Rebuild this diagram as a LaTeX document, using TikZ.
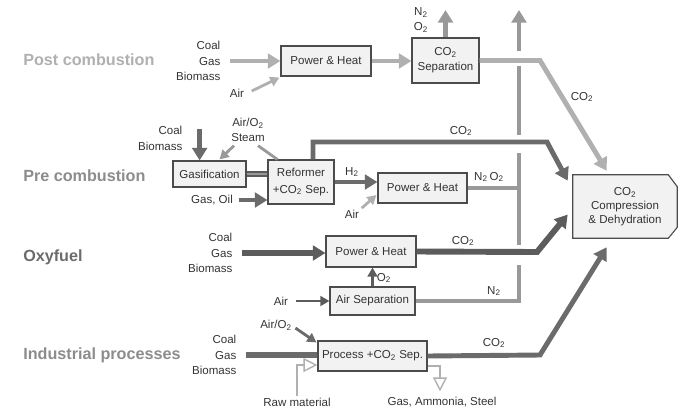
\documentclass[tikz,border=0pt]{standalone}
\usepackage{fontspec}
\setmainfont{Liberation Sans}
\usetikzlibrary{arrows.meta,calc}

\pgfdeclarelayer{bg}
\pgfsetlayers{bg,main}

\definecolor{lite}{gray}{0.69}
\definecolor{mid}{gray}{0.6}
\definecolor{dark}{gray}{0.42}
\definecolor{darker}{gray}{0.36}
\definecolor{boxfill}{gray}{0.95}
\definecolor{boxline}{gray}{0.3}
\definecolor{ink}{gray}{0.2}

\tikzset{
	unit/.style={draw=boxline, fill=boxfill, line width=0.8pt, text=ink, align=center, inner sep=1pt,
		font=\fontsize{8.2}{10.5}\selectfont},
	lbl/.style={text=ink, align=center, inner sep=1pt, font=\fontsize{8.2}{11}\selectfont},
	title/.style={anchor=west, inner sep=0pt, font=\fontsize{11.5}{13}\selectfont\bfseries},
	pipe/.style={line width=3.5pt},
	flow/.style={pipe, -{Triangle[length=9pt,width=10.5pt]}},
	feed/.style={line width=2pt, -{Triangle[length=6.5pt,width=7pt]}},
	raw/.style={draw=lite, line width=1pt, -{Triangle[open,length=10pt,width=10pt,fill=white]}},
}

\begin{document}
\begin{tikzpicture}[x=0.025cm, y=-0.025cm]

	\useasboundingbox (0,0) rectangle (678,417);

% Titulos
	\node[title, text=lite] (t1) at (23,60) {Post combustion};
	\node[title, text=gray!90] (t2) at (23,176) {Pre combustion};
	\node[title, text=dark] (t3) at (23,257) {Oxyfuel};
	\node[title, text=gray!90] (t4) at (23,355) {Industrial processes};

% Compresion
	\node[lbl, minimum width=2.6cm, minimum height=1.575cm, font=\fontsize{8.2}{10}\selectfont] (comp) at (625,206.5)
		{CO\textsubscript{2}\\Compression\\\& Dehydration};
	\begin{pgfonlayer}{bg}
		\filldraw[draw=boxline, fill=boxfill, line width=0.8pt] (comp.north west) -- ($(comp.north east)+(-9,0)$)
			-- ($(comp.north east)+(0,12)$) -- ($(comp.south east)+(0,-11)$)
			-- ($(comp.south east)+(-9,0)$) -- (comp.south west) -- cycle;
	\end{pgfonlayer}
	\coordinate (tip1) at ($(comp.north west)+(34,-4)$);
	\coordinate (tip2) at ($(comp.north west)+(-5,6)$);
	\coordinate (tip3) at ($(comp.west)+(-5,8)$);
	\coordinate (tip4) at ($(comp.south west)+(34,9)$);

% Post combustion
	\node[lbl, anchor=east, align=right] (fuel1) at (222,61) {Coal\\Gas\\Biomass};
	\node[unit, minimum width=2.25cm, minimum height=0.75cm] (ph1) at (326,61) {Power \& Heat};
	\node[unit, minimum width=1.675cm, minimum height=1.125cm] (sep1) at (445.5,60.5) {CO\textsubscript{2}\\Separation};
	\node[lbl] (air1) at (237,93) {Air};
	\node[lbl] (vent1) at (421,20) {N\textsubscript{2}\\O\textsubscript{2}};
	\node[lbl] (co2a) at (582,97) {CO\textsubscript{2}};
	\coordinate (top) at (0,10);
	\coordinate (k1) at (540,60.5);

	\draw[flow, lite] ($(fuel1.east)+(8,0)$) -- (ph1.west);
	\draw[feed, lite] ($(air1.east)+(6,-2)$) -- ($(ph1.south west)+(-1,1)$);
	\draw[flow, lite] (ph1.east) -- (sep1.west |- ph1.east);
	\draw[flow, mid] (sep1.north) -- (sep1.north |- top);
	\draw[flow, lite] (sep1.east) -- (k1) -- (tip1);

% Pre combustion
	\node[lbl, anchor=east, align=right] (fuel2) at (184,138.5) {Coal\\Biomass};
	\node[unit, minimum width=1.825cm, minimum height=0.65cm] (gas) at (209.5,174) {Gasification};
	\node[unit, minimum width=1.65cm, minimum height=1.1cm] (ref) at (301,182) {Reformer\\[1pt]+CO\textsubscript{2} Sep.};
	\node[lbl] (steam) at (248,130) {Air/O\textsubscript{2}\\Steam};
	\node[lbl] (oil) at (212,200) {Gas, Oil};
	\node[unit, minimum width=2.225cm, minimum height=0.75cm] (ph2) at (422.5,188) {Power \& Heat};
	\node[lbl] (h2) at (352,172) {H\textsubscript{2}};
	\node[lbl] (air2) at (352,214) {Air};
	\node[lbl] (co2b) at (461,131) {CO\textsubscript{2}};
	\node[lbl] (n2o2) at (489,177) {N\textsubscript{2}\,O\textsubscript{2}};
	\coordinate (k2) at (547,142);

	\draw[flow, dark] ([xshift=-7pt]gas.north) ++(0,-31) -- ([xshift=-7pt]gas.north);
	\draw[feed, mid] ($(steam.south)+(-14,2)$) -- ($(gas.north)+(10,-1)$);
	\draw[line width=2pt, mid] ($(steam.south)+(10,2)$) -- ($(ref.north west)+(10,0)$);
	\draw[draw=darker, double=gray!80, double distance=0.8pt, line width=1.8pt] (gas.east) -- (gas.east -| ref.west);
	\draw[flow, dark] ($(oil.east)+(4,0)$) -- (oil.east -| ref.west);
	\draw[flow, dark] (ref.east) -- (ref.east -| ph2.west);
	\draw[feed, lite] ($(air2.north east)+(1,0)$) -- ($(ph2.west)+(-1,7)$);
	\draw[flow, dark] ($(ref.north)+(12,0)$) |- (k2) -- (tip2);

% Oxyfuel
	\node[lbl, anchor=east, align=right] (fuel3) at (234,253) {Coal\\Gas\\Biomass};
	\node[unit, minimum width=2.25cm, minimum height=0.775cm] (ph3) at (371,251.5) {Power \& Heat};
	\node[unit, minimum width=2.125cm, minimum height=0.7cm] (asu) at (372.5,301) {Air Separation};
	\node[lbl] (air3) at (281,301) {Air};
	\node[lbl] (o2) at (384,278) {O\textsubscript{2}};
	\node[lbl] (co2c) at (463,241) {CO\textsubscript{2}};
	\node[lbl] (n2) at (494,291) {N\textsubscript{2}};
	\coordinate (k3) at (537,252);

	\draw[flow, darker, line width=4.2pt] ($(fuel3.east)+(8,0)$) -- (fuel3.east -| ph3.west);
	\draw[flow, darker, line width=4.2pt] (ph3.east) -- (k3) -- (tip3);
	\draw[feed, darker] (asu.north) -- (asu.north |- ph3.south);
	\draw[feed, darker] ($(air3.east)+(6,0)$) -- (asu.west);

% Salida a la atmosfera
	\coordinate (vent) at (519,0);
	\draw[flow, mid] (vent |- k1) ++(0,-10) -- (vent |- top);
	\foreach \a/\b in {66/135, 153/245}
		\draw[pipe, mid] (519,\a) -- (519,\b);
	\draw[line width=2.2pt, mid] (ph2.east) -- (ph2.east -| vent);
	\draw[pipe, mid] (asu.east) -| ($(vent)+(0,265)$);

% Industrial processes
	\node[lbl, anchor=east, align=right] (fuel4) at (238,355) {Coal\\Gas\\Biomass};
	\node[unit, minimum width=2.725cm, minimum height=0.75cm] (proc) at (372.5,356) {Process +CO\textsubscript{2} Sep.};
	\node[lbl] (airo) at (276,325) {Air/O\textsubscript{2}};
	\node[lbl] (rawm) at (297,402) {Raw material};
	\node[lbl] (prod) at (442,402) {Gas, Ammonia, Steel};
	\node[lbl] (co2d) at (494,343) {CO\textsubscript{2}};
	\coordinate (k4) at (540,355);

	\draw[pipe, dark, line width=4.2pt] ($(fuel4.east)+(8,0)$) -- (fuel4.east -| proc.west);
	\draw[feed, dark] ($(airo.east)+(2,3)$) -- ($(proc.north west)+(-1,2)$);
	\draw[raw] (rawm.north) |- ($(proc.west)+(0,9)$);
	\draw[raw] ($(proc.east)+(0,10)$) -| ($(prod.north)+(-2,-4)$);
	\draw[flow, dark] (proc.east) -- (k4) -- (tip4);

\end{tikzpicture}
\end{document}
